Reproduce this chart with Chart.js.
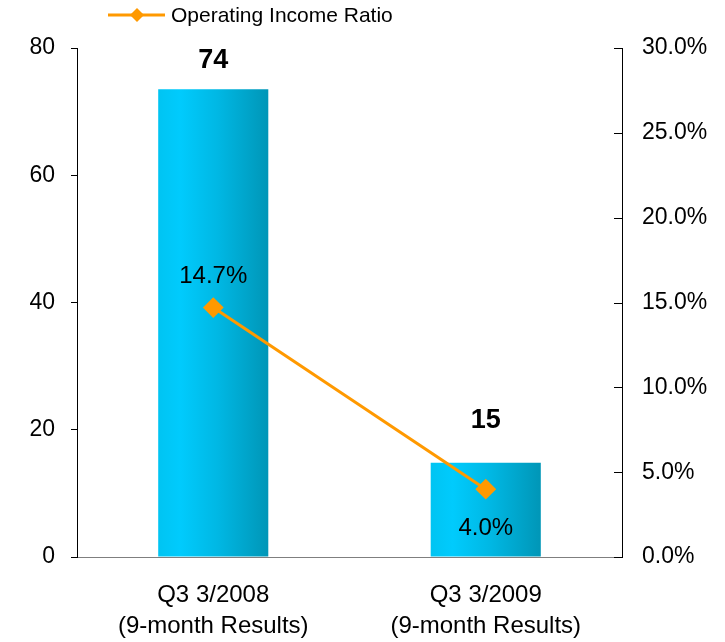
<!DOCTYPE html>
<html>
<head>
<meta charset="utf-8">
<script src="https://cdn.jsdelivr.net/npm/chart.js@4.4.1/dist/chart.umd.min.js"></script>
<style>
  html, body { margin: 0; padding: 0; background: #ffffff; }
  #wrap { width: 725px; height: 642px; position: relative; }
</style>
</head>
<body>
<div id="wrap"><canvas id="chart" width="725" height="642"></canvas></div>
<script>
// Operating income (bars, left axis) and operating income ratio (line, right axis, %)
const categories = [
  ['Q3 3/2008', '(9-month Results)'],
  ['Q3 3/2009', '(9-month Results)']
];
const incomeValues = [73.5, 14.8];
const ratioValues = [14.7, 4.0];
const incomeTicks = [0, 20, 40, 60, 80];
const ratioTicks = [0, 5, 10, 15, 20, 25, 30];

const FONT = "'Liberation Sans', Arial, Helvetica, sans-serif";
Chart.defaults.font.family = FONT;
Chart.defaults.color = '#000000';

const ORANGE = '#FF9900';
const BAR_PCT = 0.404;

// Horizontal cyan gradient spanning each bar's own width
function barGradient(context) {
  const chart = context.chart;
  const xs = chart.scales.x;
  if (!chart.chartArea || !xs) return '#00C0F0';
  const cx = xs.getPixelForValue(context.dataIndex);
  const half = (xs.width / categories.length) * BAR_PCT / 2;
  const g = chart.ctx.createLinearGradient(cx - half, 0, cx + half, 0);
  g.addColorStop(0, '#00C4F2');
  g.addColorStop(0.2, '#00CBFD');
  g.addColorStop(0.55, '#00B7E3');
  g.addColorStop(1, '#0096B7');
  return g;
}

// Value labels: bold totals above bars, percentages beside the line points
const valueLabels = {
  id: 'valueLabels',
  afterDatasetsDraw(chart) {
    const ctx = chart.ctx;
    const area = chart.chartArea;
    ctx.save();
    ctx.textAlign = 'center';
    ctx.textBaseline = 'middle';
    ctx.fillStyle = '#000000';

    const barMeta = chart.getDatasetMeta(0);
    ctx.font = 'bold 27px ' + FONT;
    barMeta.data.forEach((bar, i) => {
      const y = Math.max(bar.y - 42, area.top + 13);
      ctx.fillText(String(Math.round(incomeValues[i])), bar.x, y);
    });

    const lineMeta = chart.getDatasetMeta(1);
    ctx.font = '24px ' + FONT;
    lineMeta.data.forEach((pt, i) => {
      const prev = ratioValues[i - 1], next = ratioValues[i + 1];
      const neighbour = next !== undefined ? next : prev;
      const above = ratioValues[i] >= neighbour;
      const y = above ? pt.y - 31 : pt.y + 39;
      ctx.fillText(ratioValues[i].toFixed(1) + '%', pt.x, y);
    });
    ctx.restore();
  }
};

// Right-axis tick marks point into the plot area
const innerTicks = {
  id: 'innerTicks',
  afterDraw(chart) {
    const s = chart.scales.y1;
    const ctx = chart.ctx;
    ctx.save();
    ctx.strokeStyle = '#000000';
    ctx.lineWidth = 1;
    s.ticks.forEach(t => {
      const y = Math.round(s.getPixelForValue(t.value)) + 0.5;
      ctx.beginPath();
      ctx.moveTo(s.left - 8, y);
      ctx.lineTo(s.left, y);
      ctx.stroke();
    });
    ctx.restore();
  }
};

// Legend entry for the ratio line: line with a diamond marker
const lineLegend = {
  id: 'lineLegend',
  afterDraw(chart) {
    const ctx = chart.ctx;
    const ds = chart.data.datasets[1];
    const y = 15;
    ctx.save();
    ctx.strokeStyle = ORANGE;
    ctx.lineWidth = 3;
    ctx.beginPath();
    ctx.moveTo(108, y);
    ctx.lineTo(165, y);
    ctx.stroke();
    ctx.fillStyle = ORANGE;
    ctx.beginPath();
    ctx.moveTo(137 - 7, y);
    ctx.lineTo(137, y - 7);
    ctx.lineTo(137 + 7, y);
    ctx.lineTo(137, y + 7);
    ctx.closePath();
    ctx.fill();
    ctx.fillStyle = '#000000';
    ctx.font = '21px ' + FONT;
    ctx.textAlign = 'left';
    ctx.textBaseline = 'middle';
    ctx.fillText(ds.label, 171, y + 1);
    ctx.restore();
  }
};

new Chart(document.getElementById('chart'), {
  type: 'bar',
  data: {
    labels: categories,
    datasets: [
      {
        label: 'Operating Income',
        data: incomeValues,
        yAxisID: 'y',
        backgroundColor: barGradient,
        borderWidth: 0,
        barPercentage: BAR_PCT,
        categoryPercentage: 1,
        order: 1
      },
      {
        label: 'Operating Income Ratio',
        type: 'line',
        data: ratioValues,
        yAxisID: 'y1',
        borderColor: ORANGE,
        borderWidth: 3,
        pointStyle: 'rectRot',
        pointRadius: 9,
        pointBackgroundColor: ORANGE,
        pointBorderColor: ORANGE,
        pointBorderWidth: 2,
        tension: 0,
        order: 0
      }
    ]
  },
  options: {
    responsive: false,
    animation: false,
    layout: { padding: { top: 48, left: 0, right: 0, bottom: 0 } },
    plugins: {
      legend: { display: false },
      tooltip: { enabled: false }
    },
    scales: {
      x: {
        grid: { display: false, drawTicks: false },
        border: { display: true, color: '#7f7f7f', width: 1 },
        ticks: {
          font: { size: 24, lineHeight: 1.3 },
          color: '#000000',
          padding: 23,
          maxRotation: 0,
          autoSkip: false
        },
        afterFit(scale) { scale.height = 85; }
      },
      y: {
        position: 'left',
        min: 0,
        max: 80,
        afterBuildTicks(scale) { scale.ticks = incomeTicks.map(v => ({ value: v })); },
        grid: { drawOnChartArea: false, drawTicks: true, tickLength: 6, color: '#000000' },
        border: { display: true, color: '#000000', width: 1 },
        ticks: { font: { size: 23 }, color: '#000000', padding: 16 },
        afterFit(scale) { scale.width = 77; }
      },
      y1: {
        position: 'right',
        min: 0,
        max: 30,
        afterBuildTicks(scale) { scale.ticks = ratioTicks.map(v => ({ value: v })); },
        grid: { drawOnChartArea: false, drawTicks: false, display: true, color: '#000000' },
        border: { display: true, color: '#000000', width: 1 },
        ticks: {
          font: { size: 23 },
          color: '#000000',
          padding: 20,
          callback: v => Number(v).toFixed(1) + '%'
        },
        afterFit(scale) { scale.width = 103; }
      }
    }
  },
  plugins: [valueLabels, innerTicks, lineLegend]
});
</script>
</body>
</html>
